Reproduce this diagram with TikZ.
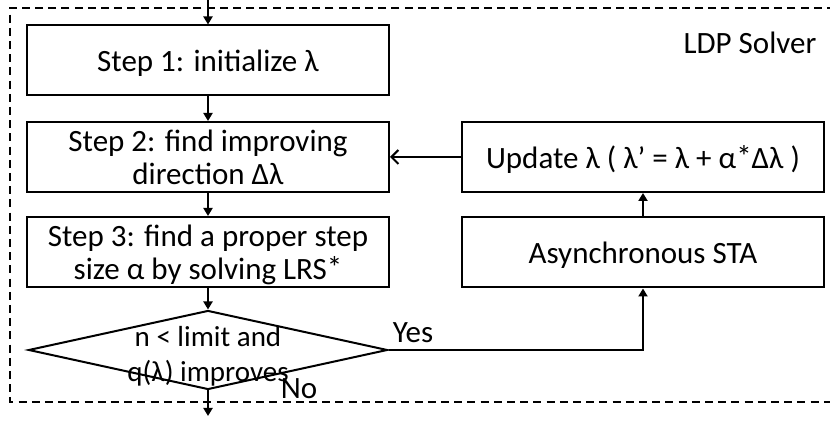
\documentclass[tikz,border=0pt]{standalone}
\usepackage{fontspec}
\setmainfont{Carlito}
\usepackage{tikz}
\usetikzlibrary{arrows.meta,calc,shapes.geometric}
\definecolor{Ink}{HTML}{000000}
\newcommand{\starmark}{\raisebox{0.08ex}{*}}
\tikzset{
  stepbox/.style={draw=Ink,line width=1pt,minimum width=181pt,minimum height=35pt,
    inner sep=0pt,text depth=0pt,align=center,font=\fontsize{15.5}{16.5}\selectfont},
  decbox/.style={draw=Ink,line width=1pt,diamond,minimum width=179.5pt,minimum height=39.5pt,inner sep=0pt},
  flow/.style={Ink,line width=1pt,-{Triangle[length=4pt,width=4.5pt]}},
  backflow/.style={Ink,line width=1pt,-{Straight Barb[length=3.5pt,width=7pt]}},
  frame/.style={Ink,line width=0.8pt,dash pattern=on 4pt off 2.6pt},
  label/.style={font=\fontsize{15.5}{17.5}\selectfont,inner sep=0pt}
}

\begin{document}
\begin{tikzpicture}[x=0.5pt,y=-0.5pt]
        \useasboundingbox (0,0) rectangle (830,421);
        \draw[frame] (835,8) -- (10,8) -- (10,402) -- (835,402);
        \node[label] (title) at (750,43) {LDP Solver};
        % left column
        \node[stepbox] (s1) at (208,60.5) {Step 1: initialize λ};
        \node[stepbox] (s2) at (208,157) {Step 2: find improving\\direction Δλ};
        \node[stepbox] (s3) at (208,252) {Step 3: find a proper step\\size α by solving LRS\starmark};
        \node[decbox] (dec) at (208,350) {};
        \node[label,align=center,font=\fontsize{14.5}{17.5}\selectfont] (dectext) at (208,356) {n < limit and\\q(λ) improves};
        % right column
        \node[stepbox] (upd) at (643,157) {Update λ ( λ’ = λ + α\starmark Δλ )};
        \node[stepbox] (sta) at (643,252.5) {Asynchronous STA};
        \coordinate (in) at (208,0);
        \coordinate (out) at (208,416);
        \draw[flow] (in) -- (s1);
        \draw[flow] (s1) -- (s2);
        \draw[flow] (s2) -- (s3);
        \draw[flow] (s3) -- (dec);
        \draw[flow] (dec.south) -- (out);
        \draw[flow] (dec.east) -| (sta);
        \draw[flow] (sta) -- (upd);
        \draw[backflow] (upd) -- (s2);
        \node[label] (yes) at (413,333) {Yes};
        \node[label] (no) at (299,389) {No};
      \end{tikzpicture}
\end{document}
